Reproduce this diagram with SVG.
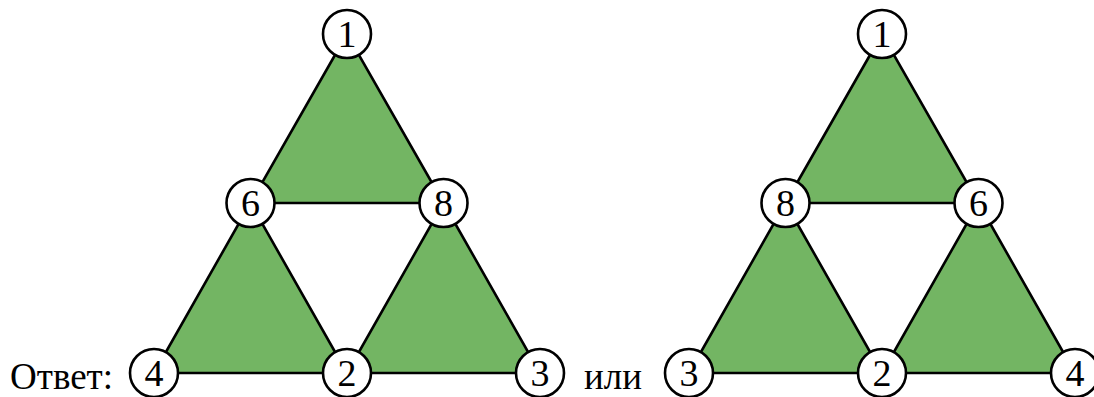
<svg xmlns="http://www.w3.org/2000/svg" width="1094" height="397" viewBox="0 0 1094 397">
<style>
.face{fill:#73b563;stroke:none}
.edge{stroke:#000;stroke-width:2.6;fill:none}
.node circle{fill:#fff;stroke:#000;stroke-width:2.6}
.node text{font-family:"Liberation Serif",serif;font-size:38px;text-anchor:middle;fill:#000}
.lbl{font-family:"Liberation Serif",serif;font-size:37px;fill:#000}
</style>
<rect width="1094" height="397" fill="#fff"/>
<g id="faces">
<polygon class="face" points="347,34 250.5,203 443.5,203"/>
<polygon class="face" points="250.5,203 154,373 347,373"/>
<polygon class="face" points="443.5,203 347,373 540,373"/>
<polygon class="face" points="882,34 785.5,203 978.5,203"/>
<polygon class="face" points="785.5,203 689,373 882,373"/>
<polygon class="face" points="978.5,203 882,373 1075,373"/>
</g>
<g id="connectors">
<polygon class="edge" points="347,34 250.5,203 443.5,203"/>
<polygon class="edge" points="250.5,203 154,373 347,373"/>
<polygon class="edge" points="443.5,203 347,373 540,373"/>
<polygon class="edge" points="882,34 785.5,203 978.5,203"/>
<polygon class="edge" points="785.5,203 689,373 882,373"/>
<polygon class="edge" points="978.5,203 882,373 1075,373"/>
</g>
<g id="L1" class="node"><circle cx="347" cy="34" r="24"/><text x="347" y="47">1</text></g>
<g id="L6" class="node"><circle cx="250.5" cy="203" r="24"/><text x="250.5" y="216">6</text></g>
<g id="L8" class="node"><circle cx="443.5" cy="203" r="24"/><text x="443.5" y="216">8</text></g>
<g id="L4" class="node"><circle cx="154" cy="373" r="24"/><text x="154" y="386">4</text></g>
<g id="L2" class="node"><circle cx="347" cy="373" r="24"/><text x="347" y="386">2</text></g>
<g id="L3" class="node"><circle cx="540" cy="373" r="24"/><text x="540" y="386">3</text></g>
<g id="R1" class="node"><circle cx="882" cy="34" r="24"/><text x="882" y="47">1</text></g>
<g id="R8" class="node"><circle cx="785.5" cy="203" r="24"/><text x="785.5" y="216">8</text></g>
<g id="R6" class="node"><circle cx="978.5" cy="203" r="24"/><text x="978.5" y="216">6</text></g>
<g id="R3" class="node"><circle cx="689" cy="373" r="24"/><text x="689" y="386">3</text></g>
<g id="R2" class="node"><circle cx="882" cy="373" r="24"/><text x="882" y="386">2</text></g>
<g id="R4" class="node"><circle cx="1075" cy="373" r="24"/><text x="1075" y="386">4</text></g>
<text class="lbl" x="10" y="389">Ответ:</text>
<text class="lbl" x="584" y="389">или</text>
</svg>
